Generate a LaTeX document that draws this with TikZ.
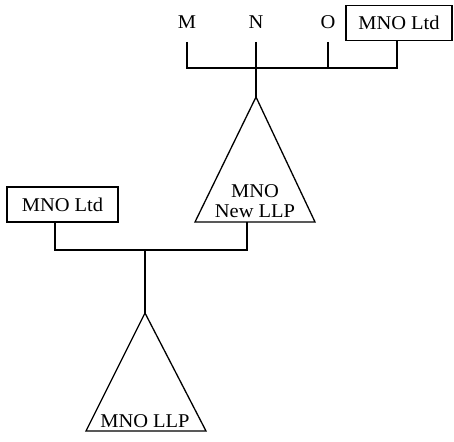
\documentclass[tikz,border=0pt]{standalone}
\usepackage{fontspec}
\setmainfont{Liberation Serif}[FakeStretch=1.05]

\begin{document}
\begin{tikzpicture}[x=1pt,y=-1pt,line width=1.3pt,
  every node/.style={font=\fontsize{19.5}{20.5}\selectfont,inner sep=0pt},
  ltdbox/.style={draw,minimum height=35pt}]
\useasboundingbox (0,0) rectangle (454,441);
% top owners
\node (m) at (187,22) {M};
\node (n) at (256,22) {N};
\node (o) at (328,22) {O};
\node[ltdbox,minimum width=106pt] (ltdtop) at (399,23) {MNO Ltd};
\coordinate (mleg) at (187,42);
\coordinate (nleg) at (256,42);
\coordinate (oleg) at (328,42);
\coordinate (barl) at (187,68);
\coordinate (barr) at (397,68);
\draw (mleg) -- (barl) -- (barr) -- (ltdtop.south -| barr);
\draw (oleg) -- (oleg |- barl);
% new llp
\draw (256,97) coordinate (newtop) -- (315,222) -- (195,222) -- cycle;
\node[align=center] (newllp) at (255,201) {MNO\\New LLP};
\draw (nleg) -- (newtop);
% second level
\node[ltdbox,minimum width=111pt] (ltdleft) at (62.5,204.5) {MNO Ltd};
\coordinate (newbase) at (247,222);
\coordinate (lowl) at (55,250);
\coordinate (lowr) at (247,250);
\coordinate (lowmid) at (145,250);
\draw (ltdleft.south -| lowl) -- (lowl) -- (lowr) -- (newbase);
% llp
\draw (145,313) coordinate (llptop) -- (206,431) -- (86,431) -- cycle;
\node (llp) at (145,421) {MNO LLP};
\draw (lowmid) -- (llptop);
\end{tikzpicture}
\end{document}
